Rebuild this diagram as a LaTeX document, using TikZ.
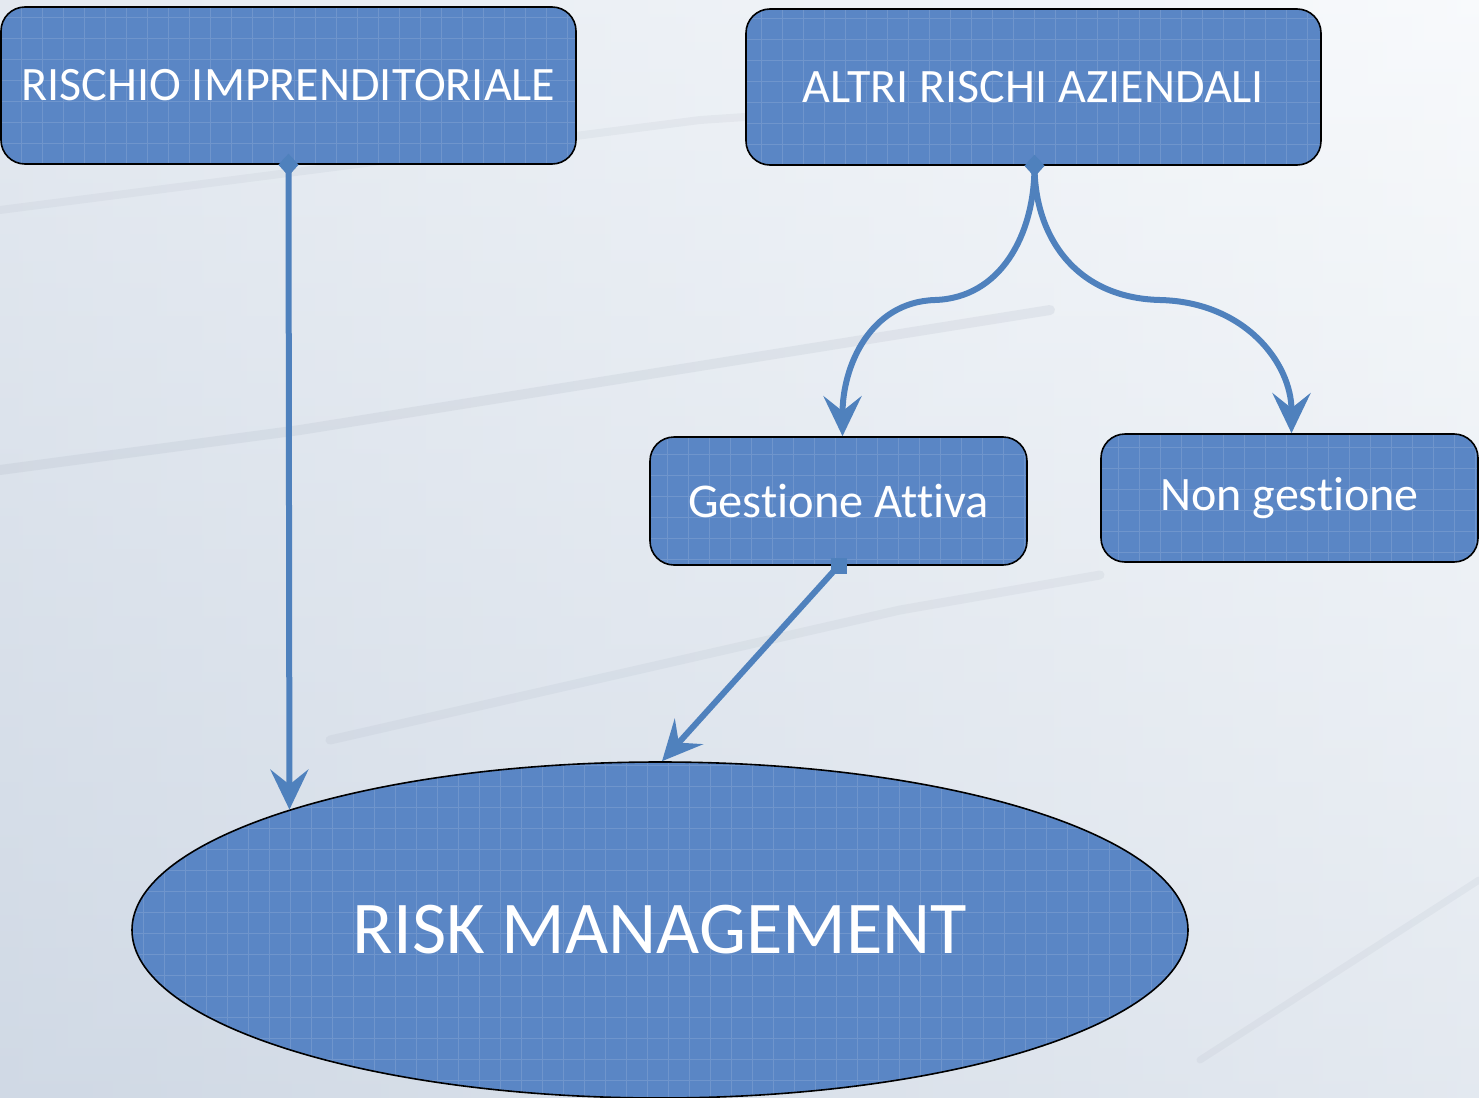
\documentclass[tikz,border=0pt]{standalone}
\usepackage{fontspec}
\setmainfont{Carlito}[Ligatures={NoCommon}]
\usetikzlibrary{arrows.meta,shapes.geometric}
\definecolor{boxfill}{RGB}{90,134,197}
\definecolor{conn}{RGB}{79,129,189}
\definecolor{bgL}{RGB}{208,217,229}
\definecolor{bgR}{RGB}{248,250,252}
\definecolor{streak}{RGB}{150,160,175}
\tikzset{
  gridfill/.style={path picture={
      \draw[white,opacity=0.13,line width=0.7pt]
        (path picture bounding box.south west) grid[step=21pt]
        (path picture bounding box.north east);}},
  riskbox/.style={rectangle, rounded corners=24pt, draw=black, line width=1.6pt,
      fill=boxfill, text=white, gridfill, inner sep=0pt},
  riskoval/.style={ellipse, draw=black, line width=1.6pt, fill=boxfill,
      text=white, gridfill, inner sep=0pt},
  conline/.style={draw=conn, line width=6pt},
  tipend/.style={-{Stealth[length=40pt,width=38pt,inset=15pt]}},
  dmark/.style={diamond, fill=conn, inner sep=0pt, minimum width=20pt, minimum height=22pt},
  smark/.style={rectangle, fill=conn, inner sep=0pt, minimum size=16pt},
}
\begin{document}
\begin{tikzpicture}[x=1pt,y=-1pt]
  % background
  \shade[left color=bgL, right color=bgR] (0,0) rectangle (1479,1097);
  \shade[top color=bgR, bottom color=bgL, opacity=0.5] (0,0) rectangle (1479,1097);
  \useasboundingbox (0,0) rectangle (1479,1097);
  % faint streaks of the photo
  \draw[streak, opacity=0.14, line width=10pt, line cap=round] (0,470) -- (300,430) -- (1050,310);
  \draw[streak, opacity=0.10, line width=8pt, line cap=round] (0,210) -- (700,120) -- (1000,100);
  \draw[streak, opacity=0.11, line width=9pt, line cap=round] (330,740) -- (900,610) -- (1100,575);
  \draw[streak, opacity=0.10, line width=7pt, line cap=round] (1200,1060) -- (1479,880);

  % boxes
  \node[riskbox, minimum width=575pt, minimum height=157pt,
        font=\fontsize{48}{56}\selectfont] (A) at (288.5,85.5) {RISCHIO IMPRENDITORIALE};
  \node[riskbox, minimum width=575pt, minimum height=156pt,
        font=\fontsize{48}{56}\selectfont] (B) at (1033.5,87) {ALTRI RISCHI AZIENDALI};
  \node[riskbox, minimum width=377pt, minimum height=128pt,
        font=\fontsize{48.5}{56}\selectfont] (C) at (838.5,501) {Gestione Attiva};
  \node[riskbox, minimum width=377pt, minimum height=128pt,
        font=\fontsize{48}{56}\selectfont] (D) at (1289.5,498) {Non gestione};
  \node[riskoval, minimum width=1056pt, minimum height=336pt,
        font=\fontsize{74.5}{84}\selectfont] (E) at (660,930) {RISK MANAGEMENT};

  % markers
  \node[dmark] (dA) at (A.south) {};
  \node[dmark] (dB) at ([xshift=1pt]B.south) {};
  \node[smark] (sC) at (C.south) {};
  \coordinate (eA) at (E.162.3);
  \coordinate (cL) at (935,300);
  \coordinate (cR) at (1160,300);

  % connectors
  \draw[conline, tipend] (dA.center) -- (eA);
  \draw[conline, tipend] (sC.center) -- ([xshift=2pt]E.north);
  \draw[conline, tipend] (dB.center) .. controls ([yshift=-70pt]dB.center) and (1000,298) .. (cL)
        .. controls (870,302) and ([xshift=4pt,yshift=70pt]C.north) .. ([xshift=4pt]C.north);
  \draw[conline, tipend] (dB.center) .. controls ([yshift=-70pt]dB.center) and (1075,298) .. (cR)
        .. controls (1245,302) and ([xshift=2pt,yshift=70pt]D.north) .. ([xshift=2pt]D.north);
  \node[dmark] at (dA) {};
  \node[dmark] at (dB) {};
  \node[smark] at (sC) {};
\end{tikzpicture}
\end{document}
